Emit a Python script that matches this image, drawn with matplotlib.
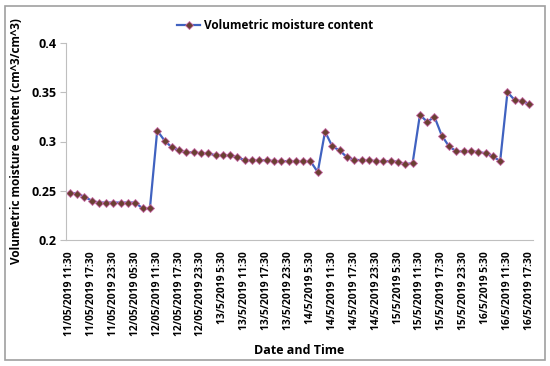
import matplotlib
matplotlib.use("Agg")
import matplotlib.pyplot as plt
from matplotlib.patches import Rectangle

plt.rcParams['font.family'] = ['Open Sans', 'DejaVu Sans']
plt.rcParams['font.weight'] = 'bold'
plt.rcParams['axes.labelweight'] = 'bold'

# --- данные: влажность каждые 2 часа ---
moisture = [0.248, 0.247, 0.244, 0.240, 0.238, 0.238, 0.238, 0.238, 0.238, 0.238,
            0.232, 0.232, 0.311, 0.301, 0.294, 0.291, 0.289, 0.289, 0.288, 0.288,
            0.286, 0.286, 0.286, 0.284, 0.281, 0.281, 0.281, 0.281, 0.280, 0.280,
            0.280, 0.280, 0.280, 0.280, 0.269, 0.310, 0.295, 0.291, 0.284, 0.2815,
            0.281, 0.281, 0.280, 0.280, 0.280, 0.2795, 0.277, 0.278, 0.327, 0.320,
            0.325, 0.306, 0.295, 0.290, 0.290, 0.290, 0.2895, 0.288, 0.285, 0.280,
            0.350, 0.342, 0.341, 0.338]

tick_labels = ["11/05/2019 11:30", "11/05/2019 17:30", "11/05/2019 23:30",
               "12/05/2019 05:30", "12/05/2019 11:30", "12/05/2019 17:30",
               "12/05/2019 23:30", "13/5/2019 5:30", "13/5/2019 11:30",
               "13/5/2019 17:30", "13/5/2019 23:30", "14/5/2019 5:30",
               "14/5/2019 11:30", "14/5/2019 17:30", "14/5/2019 23:30",
               "15/5/2019 5:30", "15/5/2019 11:30", "15/5/2019 17:30",
               "15/5/2019 23:30", "16/5/2019 5:30", "16/5/2019 11:30",
               "16/5/2019 17:30"]

W, H = 550, 366
fig = plt.figure(figsize=(W / 100, H / 100), dpi=100)
ax = fig.add_axes([66 / W, 1 - 240 / H, (533 - 66) / W, (240 - 43) / H])

x = range(len(moisture))
ax.plot(x, moisture, color='#4062c0', linewidth=1.6, marker='D', markersize=4.5,
        markerfacecolor='#6a4032', markeredgecolor='#c86aa8', markeredgewidth=0.6,
        label='Volumetric moisture content')

ax.set_xlim(-0.5, len(moisture) - 0.5)
ax.set_ylim(0.2, 0.4)
ax.set_yticks([0.2, 0.25, 0.3, 0.35, 0.4])
ax.set_yticklabels(['0.2', '0.25', '0.3', '0.35', '0.4'], fontsize=9, fontweight='bold')
ax.set_xticks(range(0, len(moisture), 3))
ax.set_xticklabels(tick_labels, rotation=90, fontsize=7.4, fontweight='bold')

for side in ['top', 'right']:
    ax.spines[side].set_visible(False)
ax.spines['left'].set_color('#bfbfbf')
ax.spines['bottom'].set_color('#bfbfbf')
ax.tick_params(axis='y', length=4, color='#bfbfbf', pad=3)
ax.tick_params(axis='x', length=0, pad=8)

ax.set_ylabel('Volumetric moisture content (cm^3/cm^3)', fontsize=8.5,
              fontweight='bold', labelpad=6)
ax.set_xlabel('Date and Time', fontsize=9, fontweight='bold', labelpad=6)

ax.legend(loc='center', bbox_to_anchor=((275 - 66) / 467, 1 + 17 / 197),
          frameon=False, prop={'size': 8.5, 'weight': 'bold'},
          handlelength=2.0, handletextpad=0.3, borderaxespad=0, borderpad=0)

# рамка вокруг всей картинки
fig.patches.append(Rectangle((5 / W, 6 / H), 540 / W, 1 - 12 / H,
                             transform=fig.transFigure, fill=False,
                             edgecolor='#a0a0a0', linewidth=1.2))

fig.savefig('out.png', dpi=100)
